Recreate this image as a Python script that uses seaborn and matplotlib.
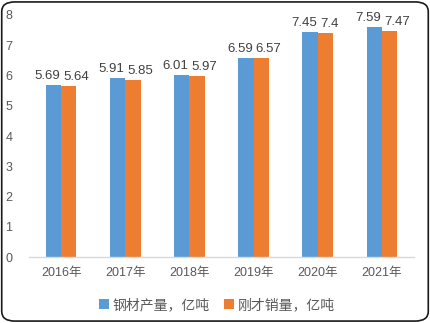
import matplotlib
matplotlib.use("Agg")
import matplotlib.pyplot as plt
import seaborn as sns
import pandas as pd
from matplotlib.patches import FancyBboxPatch

years = ["2016年", "2017年", "2018年", "2019年", "2020年", "2021年"]
production = [5.69, 5.91, 6.01, 6.59, 7.45, 7.59]
sales = [5.64, 5.85, 5.97, 6.57, 7.4, 7.47]
series_names = ["钢材产量，亿吨", "刚才销量，亿吨"]
yticks = [0, 1, 2, 3, 4, 5, 6, 7, 8]

sns.set_theme(style="white")
plt.rcParams['font.family'] = ['Liberation Sans', 'Noto Sans CJK SC', 'DejaVu Sans']

df = pd.DataFrame({
    "year": years * 2,
    "value": production + sales,
    "series": [series_names[0]] * len(years) + [series_names[1]] * len(years),
})

fig = plt.figure(figsize=(4.3, 3.23), dpi=100)
ax = fig.add_axes([0.0674, 0.204, 0.8956, 0.7496])
palette = ["#5B9BD5", "#ED7D31"]
sns.barplot(data=df, x="year", y="value", hue="series", palette=palette,
            width=0.48, ax=ax, saturation=1, legend=True, linewidth=0)

txt = "#595959"
for i, cont in enumerate(ax.containers):
    for bar, v in zip(cont.patches, cont.datavalues):
        if i == 0:
            x = bar.get_x() + bar.get_width()
            ha = "right"
            dx = -1
        else:
            x = bar.get_x()
            ha = "left"
            dx = 2
        ax.annotate("%g" % v, xy=(x, bar.get_height()), xytext=(dx, 3),
                    textcoords="offset pixels", ha=ha, va="bottom",
                    fontsize=9.5, color="#404040",
                    family=['Liberation Sans', 'DejaVu Sans'])

ax.set_ylim(0, 8)
ax.set_yticks(yticks)
ax.set_yticklabels([str(t) for t in yticks], fontsize=9, color=txt)
ax.tick_params(axis='y', length=0, pad=12)
ax.tick_params(axis='x', length=0, pad=7, labelsize=9, labelcolor=txt)
for lab in ax.get_xticklabels():
    lab.set_family(['Liberation Sans', 'Noto Sans CJK SC'])
ax.set_xlabel("")
ax.set_ylabel("")
for s in ["top", "right", "left"]:
    ax.spines[s].set_visible(False)
ax.spines["bottom"].set_color("#D9D9D9")
ax.spines["bottom"].set_linewidth(1)

leg = ax.legend(loc="center", bbox_to_anchor=(0.488, -0.198), ncol=2, frameon=False,
                prop={'family': ['Noto Sans CJK SC'], 'size': 10},
                handlelength=0.7, handleheight=0.7, handletextpad=0.3, columnspacing=1.0)
for t in leg.get_texts():
    t.set_color(txt)

border = FancyBboxPatch((0.004, 0.006), 0.992, 0.988,
                        boxstyle="round,pad=0,rounding_size=0.03",
                        transform=fig.transFigure, fill=False,
                        edgecolor="#1a1a1a", linewidth=1.2)
fig.patches.append(border)

fig.savefig("out.png", dpi=100)
